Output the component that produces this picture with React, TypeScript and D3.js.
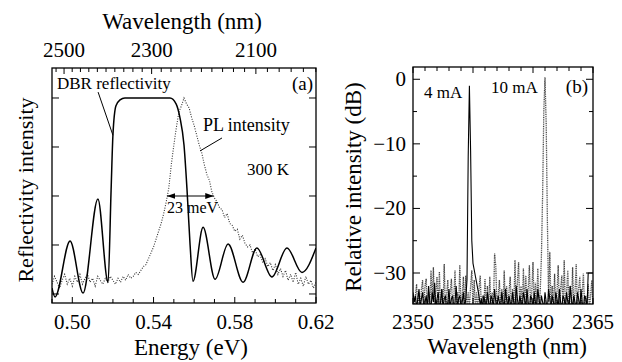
import * as d3 from "d3";

const FONT = "Liberation Serif";

/* ---------------- panel (a): DBR reflectivity vs PL ---------------- */

// DBR reflectivity (eV, normalised)
const dbrEnergy = [
  0.49, 0.4915, 0.4989, 0.5053, 0.5126, 0.5176, 0.5191, 0.52, 0.5215, 0.5235,
  0.5259, 0.53, 0.54, 0.5481, 0.5511, 0.553, 0.555, 0.5565, 0.558, 0.5594,
  0.5644, 0.5703, 0.5767, 0.5841, 0.5909, 0.5983, 0.6057, 0.6131, 0.62,
];
const dbrReflect = [
  0.03, -0.015, 0.27, 0.005, 0.485, 0.06, 0.53, 0.81, 0.96, 0.99,
  1.0, 1.0, 1.0, 1.0, 0.97, 0.9, 0.76, 0.53, 0.25, 0.065,
  0.34, 0.075, 0.255, 0.06, 0.235, 0.087, 0.235, 0.11, 0.235,
];

// PL intensity, sampled every 1.25 meV from 0.49 eV
const plStart = 0.49;
const plStep = 0.00125;
const plIntensity = [
  0.05, 0.09, 0.06, 0.03, 0.07, 0.1, 0.05, 0.08, 0.04, 0.09,
  0.06, 0.1, 0.05, 0.08, 0.1, 0.06, 0.08, 0.04, 0.09, 0.07,
  0.05, 0.08, 0.06, 0.09, 0.07, 0.05, 0.08, 0.06, 0.09, 0.07,
  0.1, 0.08, 0.09, 0.11, 0.1, 0.12, 0.14, 0.15, 0.18, 0.21,
  0.24, 0.28, 0.32, 0.36, 0.41, 0.47, 0.54, 0.66, 0.76, 0.85,
  0.93, 0.96, 1.0, 0.97, 0.95, 0.9, 0.86, 0.81, 0.76, 0.72,
  0.66, 0.61, 0.58, 0.52, 0.49, 0.47, 0.44, 0.43, 0.39, 0.41,
  0.36, 0.35, 0.32, 0.33, 0.28, 0.3, 0.26, 0.24, 0.25, 0.21,
  0.23, 0.19, 0.2, 0.16, 0.18, 0.14, 0.16, 0.12, 0.15, 0.1,
  0.13, 0.09, 0.12, 0.07, 0.1, 0.06, 0.11, 0.05, 0.08, 0.04,
  0.09, 0.05, 0.07, 0.03, 0.06,
];

const fwhmEnergy = [0.5466, 0.5696];
const energyTicks = [0.5, 0.54, 0.58, 0.62];
const wavelengthTicks = [2500, 2300, 2100];
const reflectTicks = [0, 0.25, 0.5, 0.75, 1];

/* ---------------- panel (b): lasing spectra ---------------- */

const specStart = 2350;
const specStep = 0.1;
// 4 mA, dB
const spec4mA = [
  -33, -34.5, -33.5, -35.5, -34, -32.5, -35.5, -34, -33, -35.5,
  -34.5, -33.5, -35.5, -32, -34.5, -35.5, -33, -34.5, -31.5, -35.5,
  -34, -33, -35.5, -34.5, -32.5, -35.5, -34, -33.5, -35.5, -34.5,
  -32.5, -35.5, -34, -33.5, -35.5, -34.5, -32, -35.5, -34, -33.5,
  -35.5, -34.5, -33, -35.5, -34, -31, -12, -1, -11, -25,
  -28.5, -29.5, -30.5, -31.5, -32.5, -33.5, -35, -34, -35.5, -33.5,
  -34.5, -35.5, -33, -34.5, -35.5, -33.5, -34, -35.5, -32.5, -34.5,
  -35.5, -33.5, -34.5, -35.5, -33, -34.5, -35.5, -32.5, -34, -35.5,
  -33.5, -34.5, -35.5, -33, -34.5, -35.5, -32, -34, -35.5, -33.5,
  -34.5, -35.5, -33, -34, -35.5, -32.5, -34.5, -35.5, -33.5, -34,
  -35.5, -33, -34.5, -35.5, -32.5, -34, -35.5, -33.5, -34.5, -35.5,
  -33, -34.5, -35.5, -32.5, -34, -35.5, -33.5, -34.5, -35.5, -33,
  -34, -35.5, -32.5, -34.5, -35.5, -33.5, -34, -35.5, -33, -34.5,
  -35.5, -32, -34, -35.5, -33.5, -34.5, -35.5, -33, -34, -35.5,
  -32.5, -34.5, -35.5, -33.5, -34, -35.5, -30, -30, -30, -30,
  -30,
];
// 10 mA, dB
const spec10mA = [
  -34, -35.5, -33.5, -31.7, -35.5, -33, -35.5, -32.5, -31.1, -35.5,
  -32, -30.9, -35.5, -33, -35.5, -29.6, -34, -29.1, -35.5, -33,
  -30.6, -35.5, -29.8, -35.5, -32.5, -35.5, -28.6, -35.5, -33.5, -31.1,
  -35.5, -33, -30.9, -35.5, -34, -29.6, -35.5, -33, -35.5, -28.8,
  -35.5, -33.5, -30.6, -35.5, -30.4, -35.5, -33, -35.5, -32, -29.6,
  -35.5, -31.1, -35.5, -33, -35.5, -32.5, -30.4, -35.5, -33.5, -35.5,
  -30.9, -35.5, -32, -35.5, -30.6, -35.5, -33, -35.5, -27, -29,
  -35.5, -33.5, -31.1, -35.5, -32.5, -35.5, -29.6, -35.5, -32, -35.5,
  -33, -30.6, -35.5, -32.5, -35.5, -28, -35.5, -31.5, -28.3, -35.5,
  -32, -35.5, -29.3, -35.5, -30.4, -35.5, -32.5, -28.8, -35.5, -33,
  -28.3, -35.5, -31.5, -35.5, -29.3, -35.5, -33, -27.5, -18, -5,
  0.3, -7, -22, -34.5, -26.7, -35.5, -32, -35.5, -30.1, -35.5,
  -33, -28.8, -35.5, -32.5, -30.4, -35.5, -28, -35.5, -33, -29.6,
  -35.5, -32, -35.5, -29.1, -35.5, -33, -28.6, -35.5, -32.5, -30.6,
  -35.5, -33, -30.1, -35.5, -33.5, -35.5, -31.7, -35.5, -33.5, -31.1,
  -35.5,
];
const nmTicks = [2350, 2355, 2360, 2365];
const dbTicks = [0, -10, -20, -30];

/* ---------------- layout ---------------- */

const W = 622;
const H = 362;
const A = { left: 52, right: 316, top: 68, bottom: 303 };
const B = { left: 413, right: 593, top: 67, bottom: 304 };

export default function App() {
  const xE = d3.scaleLinear().domain([0.49, 0.62]).range([A.left, A.right]);
  const yR = d3.scaleLinear().domain([-0.046, 1.153]).range([A.bottom, A.top]);
  const lamToE = (l: number) => 1239.84 / l;

  const xW = d3.scaleLinear().domain([2350, 2365]).range([B.left, B.right]);
  const yD = d3.scaleLinear().domain([-34.8, 1.9]).range([B.bottom, B.top]);

  const dbrLine = d3
    .line<number>()
    .x((_, i) => xE(dbrEnergy[i]))
    .y((d) => yR(d))
    .curve(d3.curveMonotoneX);
  const plLine = d3
    .line<number>()
    .x((_, i) => xE(plStart + i * plStep))
    .y((d) => yR(d));
  const specLine = d3
    .line<number>()
    .x((_, i) => xW(specStart + i * specStep))
    .y((d) => yD(d));

  const minorE = d3.range(0.49, 0.6201, 0.01);
  const minorL = d3.range(2000, 2521, 20);
  const minorNm = d3.range(2350, 2365.01, 1);
  const minorDb = [-5, -15, -25];

  const tick = "#000";

  return (
    <svg
      width={W}
      height={H}
      style={{ position: "absolute", left: 0, top: 0, background: "#fff", fontFamily: FONT }}
    >
      <defs>
        <clipPath id="clipA">
          <rect x={A.left} y={A.top} width={A.right - A.left} height={A.bottom - A.top} />
        </clipPath>
        <clipPath id="clipB">
          <rect x={B.left} y={B.top} width={B.right - B.left} height={B.bottom - B.top} />
        </clipPath>
        <marker id="arr" viewBox="0 0 10 10" refX={10} refY={5} markerWidth={7} markerHeight={7} orient="auto-start-reverse">
          <path d="M0,1.5 L10,5 L0,8.5 z" fill="#000" />
        </marker>
      </defs>

      {/* ---------- panel (a) ---------- */}
      <g clipPath="url(#clipA)">
        <path d={plLine(plIntensity) ?? ""} fill="none" stroke="#333" strokeWidth={1.1} strokeDasharray="1 1.5" />
        <path d={dbrLine(dbrReflect) ?? ""} fill="none" stroke="#000" strokeWidth={1.5} />
      </g>

      {/* bottom / top energy ticks */}
      {minorE.map((e) => {
        const major = energyTicks.some((t) => Math.abs(t - e) < 1e-6);
        const len = major ? 6 : 4;
        return <line key={"eb" + e} x1={xE(e)} x2={xE(e)} y1={A.bottom} y2={A.bottom - len} stroke={tick} />;
      })}
      {minorL.map((l) => {
        const major = wavelengthTicks.includes(l);
        const len = major ? 6 : 4;
        return <line key={"lt" + l} x1={xE(lamToE(l))} x2={xE(lamToE(l))} y1={A.top} y2={A.top + len} stroke={tick} />;
      })}
      {reflectTicks.map((r) => (
        <g key={"r" + r}>
          <line x1={A.left} x2={A.left + 7} y1={yR(r)} y2={yR(r)} stroke={tick} />
          <line x1={A.right} x2={A.right - 7} y1={yR(r)} y2={yR(r)} stroke={tick} />
        </g>
      ))}
      <rect x={A.left} y={A.top} width={A.right - A.left} height={A.bottom - A.top} fill="none" stroke="#000" strokeWidth={1.3} />

      {energyTicks.map((e) => (
        <text key={"et" + e} x={xE(e)} y={329} textAnchor="middle" fontSize={21}>
          {d3.format(".2f")(e)}
        </text>
      ))}
      {wavelengthTicks.map((l) => (
        <text key={"wt" + l} x={xE(lamToE(l))} y={57} textAnchor="middle" fontSize={21}>
          {l}
        </text>
      ))}
      <text x={182} y={29} textAnchor="middle" fontSize={23}>Wavelength (nm)</text>
      <text x={191} y={355} textAnchor="middle" fontSize={23}>Energy (eV)</text>
      <text transform="translate(33,190) rotate(-90)" textAnchor="middle" fontSize={22}>
        Reflectivity intensity
      </text>

      {/* annotations */}
      <text x={57} y={89} fontSize={17}>DBR reflectivity</text>
      <line x1={xE(0.5127)} y1={yR(1.03)} x2={xE(0.52)} y2={yR(0.81)} stroke="#000" />
      <text x={203} y={131} fontSize={18}>PL intensity</text>
      <line x1={xE(0.5737)} y1={yR(0.796)} x2={xE(0.5629)} y2={yR(0.73)} stroke="#000" />
      <text x={313} y={90} textAnchor="end" fontSize={19}>(a)</text>
      <text x={247} y={175} fontSize={17}>300 K</text>
      <line
        x1={xE(fwhmEnergy[0])}
        x2={xE(fwhmEnergy[1])}
        y1={yR(0.5)}
        y2={yR(0.5)}
        stroke="#000"
        strokeWidth={1.2}
        markerStart="url(#arr)"
        markerEnd="url(#arr)"
      />
      <text x={167} y={213} fontSize={16}>23 meV</text>

      {/* ---------- panel (b) ---------- */}
      <g clipPath="url(#clipB)">
        <path d={specLine(spec10mA) ?? ""} fill="none" stroke="#444" strokeWidth={1.3} strokeDasharray="1 0.8" />
        <path d={specLine(spec4mA) ?? ""} fill="none" stroke="#000" strokeWidth={1.1} />
      </g>
      {minorNm.map((n) => {
        const major = nmTicks.includes(n);
        const len = major ? 6 : 4;
        return (
          <g key={"n" + n}>
            <line x1={xW(n)} x2={xW(n)} y1={B.bottom} y2={B.bottom - len} stroke={tick} />
            <line x1={xW(n)} x2={xW(n)} y1={B.top} y2={B.top + len} stroke={tick} />
          </g>
        );
      })}
      {[...dbTicks, ...minorDb].map((d) => {
        const len = dbTicks.includes(d) ? 7 : 4;
        return (
          <g key={"d" + d}>
            <line x1={B.left} x2={B.left + len} y1={yD(d)} y2={yD(d)} stroke={tick} />
            <line x1={B.right} x2={B.right - len} y1={yD(d)} y2={yD(d)} stroke={tick} />
          </g>
        );
      })}
      <rect x={B.left} y={B.top} width={B.right - B.left} height={B.bottom - B.top} fill="none" stroke="#000" strokeWidth={1.3} />

      {nmTicks.map((n) => (
        <text key={"nt" + n} x={xW(n)} y={329} textAnchor="middle" fontSize={21}>
          {n}
        </text>
      ))}
      {dbTicks.map((d) => (
        <text key={"dt" + d} x={406} y={yD(d) + 7} textAnchor="end" fontSize={21}>
          {d === 0 ? "0" : "\u2212" + Math.abs(d)}
        </text>
      ))}
      <text x={507} y={354} textAnchor="middle" fontSize={23}>Wavelength (nm)</text>
      <text transform="translate(361,187) rotate(-90)" textAnchor="middle" fontSize={23}>
        Relative intensity (dB)
      </text>
      <text x={424} y={98} fontSize={17}>4 mA</text>
      <text x={491} y={93} fontSize={17}>10 mA</text>
      <text x={588} y={93} textAnchor="end" fontSize={19}>(b)</text>
    </svg>
  );
}
